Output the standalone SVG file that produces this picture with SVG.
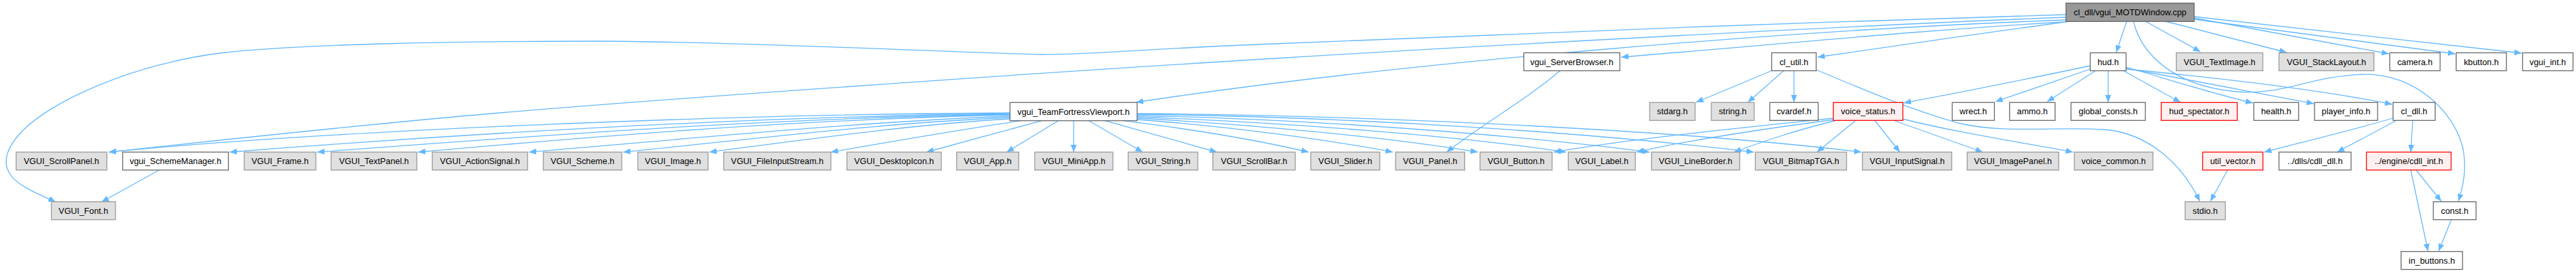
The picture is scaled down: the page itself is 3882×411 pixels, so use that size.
<svg xmlns="http://www.w3.org/2000/svg" width="3882" height="411" viewBox="0 0 3882 411">
<style>
.node rect{stroke-width:1.3}
.g rect{fill:#e0e0e0;stroke:#999999}
.w rect{fill:#ffffff;stroke:#666666}
.r rect{fill:#fff0f0;stroke:#ff0000}
.root rect{fill:#999999;stroke:#666666}
.node text{font-family:"Liberation Sans",Arial,sans-serif;font-size:12.8px;fill:#000;text-anchor:middle}
.e{fill:none;stroke:#63b8ff;stroke-width:1.3;marker-end:url(#ah)}
</style>
<defs>
<marker id="ah" markerUnits="userSpaceOnUse" markerWidth="13" markerHeight="10" refX="11" refY="4.5" orient="auto">
<path d="M0,0 L11,4.5 L0,9 z" fill="#63b8ff"/>
</marker>
</defs>
<rect width="3882" height="411" fill="#ffffff"/>
<g id="edges">
<path class="e" d="M3113,22 C2950,26 2750,34 2570,40 S2100,60 1920,66 S1650,83 1570,82 S1100,62 900,62 S450,66 332,80 S70,150 25,207 S40,284 84,304"/>
<path class="e" d="M3113,26 C2800,38 2250,68 1920,88 S900,155 640,180 S260,219 164,229"/>
<path class="e" d="M3113,30 C2700,45 2100,95 1712,154"/>
<path class="e" d="M3113,33 C2900,45 2700,65 2443,86"/>
<path class="e" d="M3120,32 C3000,48 2850,70 2739,86"/>
<path class="e" d="M3205,32 L3189,79"/>
<path class="e" d="M3233,32 L3316,78"/>
<path class="e" d="M3263,32 L3446,79"/>
<path class="e" d="M3306,27 L3600,81"/>
<path class="e" d="M3306,29 L3700,81"/>
<path class="e" d="M3306,25 L3800,80"/>
<path class="e" d="M3215,32 C3228,85 3280,130 3370,138 C3440,144 3480,115 3559,112 C3640,109 3700,170 3712,225 C3718,260 3710,285 3705,303"/>
<path class="e" d="M3150,99 C3050,120 2950,140 2869,155"/>
<path class="e" d="M3150,104 L3007,153"/>
<path class="e" d="M3158,106.5 L3085,153"/>
<path class="e" d="M3177,106.5 L3177,154"/>
<path class="e" d="M3200,106.5 L3286,154"/>
<path class="e" d="M3204,101 C3270,120 3330,140 3395,155"/>
<path class="e" d="M3204,103 C3300,120 3400,140 3487,156"/>
<path class="e" d="M3204,104 C3350,118 3500,136 3605,157"/>
<path class="e" d="M3606,178 C3530,200 3460,216 3412,229"/>
<path class="e" d="M3612,181 L3522,229"/>
<path class="e" d="M3636,181 L3633,229"/>
<path class="e" d="M3357,256 L3331,303"/>
<path class="e" d="M2737,105 C2820,140 2880,165 2950,185 C3020,202 3100,190 3170,195 C3240,200 3290,250 3315,303"/>
<path class="e" d="M3641,256 L3679,303"/>
<path class="e" d="M3633,256 L3659,378"/>
<path class="e" d="M3694,331 L3675,378"/>
<path class="e" d="M2671,106 L2556,154"/>
<path class="e" d="M2688,106.5 L2634,154"/>
<path class="e" d="M2703.5,106.5 L2703.5,154"/>
<path class="e" d="M2351,106.5 C2300,150 2230,190 2180,229"/>
<path class="e" d="M240,256 L153,304"/>
<path class="e" d="M2763,178 C2600,195 2450,210 2341,229"/>
<path class="e" d="M2765,180 C2650,195 2550,210 2466,229"/>
<path class="e" d="M2768,181 C2700,198 2660,212 2613,229"/>
<path class="e" d="M2797,181 L2738,229"/>
<path class="e" d="M2825,181 L2863,229"/>
<path class="e" d="M2853,181 L2988,229"/>
<path class="e" d="M2867,179 C2950,200 3050,215 3124,229"/>
<path class="e" d="M1522,170 C1100,172 500,196 164,229"/>
<path class="e" d="M1522,171 C1100,176 650,205 346,229"/>
<path class="e" d="M1522,172 C1150,178 800,205 478,229"/>
<path class="e" d="M1522,173 C1200,180 900,205 630,229"/>
<path class="e" d="M1522,175 C1300,183 1050,208 797,229"/>
<path class="e" d="M1522,177 C1330,185 1150,208 939,229"/>
<path class="e" d="M1522,179 C1380,187 1230,208 1069,229"/>
<path class="e" d="M1539,181.7 C1450,195 1350,212 1252,229"/>
<path class="e" d="M1570,181.7 L1396,229"/>
<path class="e" d="M1595,181.7 L1517,229"/>
<path class="e" d="M1618,181.7 L1618,229"/>
<path class="e" d="M1641,181.7 L1722,229"/>
<path class="e" d="M1665,181.7 L1834,229"/>
<path class="e" d="M1692,181.7 C1800,195 1900,212 1972,229"/>
<path class="e" d="M1713.6,180 C1850,190 2000,210 2099,229"/>
<path class="e" d="M1713.6,178 C1900,188 2100,208 2227,229"/>
<path class="e" d="M1713.6,176 C1950,185 2200,205 2360,229"/>
<path class="e" d="M1713.6,174 C2000,180 2300,205 2486,229"/>
<path class="e" d="M1713.6,172 C2050,176 2400,200 2643,229"/>
<path class="e" d="M1713.6,171 C2100,174 2550,198 2805,229"/>
</g>
<g id="root" class="node root"><rect x="3113.4" y="4.7" width="193.2" height="27.6"/><text x="3210" y="23">cl_dll/vgui_MOTDWindow.cpp</text></g>
<g id="n_serverbrowser" class="node w"><rect x="2296.4" y="79.5" width="144.6" height="27"/><text x="2368.7" y="97.5">vgui_ServerBrowser.h</text></g>
<g id="n_cl_util" class="node w"><rect x="2669.8" y="79.5" width="67.2" height="27"/><text x="2703.4" y="97.5">cl_util.h</text></g>
<g id="n_hud" class="node w"><rect x="3150" y="79.5" width="54" height="27"/><text x="3177" y="97.5">hud.h</text></g>
<g id="n_textimage" class="node g"><rect x="3279.6" y="79.5" width="130.4" height="27"/><text x="3344.8" y="97.5">VGUI_TextImage.h</text></g>
<g id="n_stacklayout" class="node g"><rect x="3434.4" y="79.5" width="143.1" height="27"/><text x="3506" y="97.5">VGUI_StackLayout.h</text></g>
<g id="n_camera" class="node w"><rect x="3601.4" y="79.5" width="75.8" height="27"/><text x="3639.3" y="97.5">camera.h</text></g>
<g id="n_kbutton" class="node w"><rect x="3701.4" y="79.5" width="75.8" height="27"/><text x="3739.3" y="97.5">kbutton.h</text></g>
<g id="n_vgui_int" class="node w"><rect x="3801.5" y="79.5" width="76" height="27"/><text x="3839.5" y="97.5">vgui_int.h</text></g>
<g id="n_tfv" class="node w"><rect x="1522" y="154.3" width="191.6" height="27.4"/><text x="1617.8" y="172.5">vgui_TeamFortressViewport.h</text></g>
<g id="n_stdarg" class="node g"><rect x="2486" y="154.3" width="68.5" height="27"/><text x="2520.2" y="172.3">stdarg.h</text></g>
<g id="n_string" class="node g"><rect x="2579" y="154.3" width="64.5" height="27"/><text x="2611.2" y="172.3">string.h</text></g>
<g id="n_cvardef" class="node w"><rect x="2667" y="154.3" width="73" height="27"/><text x="2703.5" y="172.3">cvardef.h</text></g>
<g id="n_voice_status" class="node r"><rect x="2762.7" y="154.3" width="104.9" height="27"/><text x="2815.1" y="172.3">voice_status.h</text></g>
<g id="n_wrect" class="node w"><rect x="2942" y="154.3" width="63.5" height="27"/><text x="2973.7" y="172.3">wrect.h</text></g>
<g id="n_ammo" class="node w"><rect x="3028.5" y="154.3" width="68.5" height="27"/><text x="3062.7" y="172.3">ammo.h</text></g>
<g id="n_global_consts" class="node w"><rect x="3121" y="154.3" width="112" height="27"/><text x="3177" y="172.3">global_consts.h</text></g>
<g id="n_hud_spectator" class="node r"><rect x="3257" y="154.3" width="114.5" height="27"/><text x="3314.2" y="172.3">hud_spectator.h</text></g>
<g id="n_health" class="node w"><rect x="3396.5" y="154.3" width="67.5" height="27"/><text x="3430.2" y="172.3">health.h</text></g>
<g id="n_player_info" class="node w"><rect x="3488" y="154.3" width="95" height="27"/><text x="3535.5" y="172.3">player_info.h</text></g>
<g id="n_cl_dll" class="node w"><rect x="3606.3" y="154.3" width="63.4" height="27"/><text x="3638" y="172.3">cl_dll.h</text></g>
<g id="n_scrollpanel" class="node g"><rect x="24.3" y="229" width="136.7" height="27"/><text x="92.6" y="247">VGUI_ScrollPanel.h</text></g>
<g id="n_schememanager" class="node w"><rect x="184.8" y="229" width="159.5" height="27"/><text x="264.5" y="247">vgui_SchemeManager.h</text></g>
<g id="n_frame" class="node g"><rect x="368" y="229" width="108" height="27"/><text x="422" y="247">VGUI_Frame.h</text></g>
<g id="n_textpanel" class="node g"><rect x="499" y="229" width="129.2" height="27"/><text x="563.6" y="247">VGUI_TextPanel.h</text></g>
<g id="n_actionsignal" class="node g"><rect x="651.4" y="229" width="143.6" height="27"/><text x="723.2" y="247">VGUI_ActionSignal.h</text></g>
<g id="n_scheme" class="node g"><rect x="818.7" y="229" width="118.3" height="27"/><text x="877.8" y="247">VGUI_Scheme.h</text></g>
<g id="n_image" class="node g"><rect x="961.2" y="229" width="105.8" height="27"/><text x="1014.1" y="247">VGUI_Image.h</text></g>
<g id="n_fileinputstream" class="node g"><rect x="1090.6" y="229" width="161.5" height="27"/><text x="1171.3" y="247">VGUI_FileInputStream.h</text></g>
<g id="n_desktopicon" class="node g"><rect x="1276.3" y="229" width="142.2" height="27"/><text x="1347.4" y="247">VGUI_DesktopIcon.h</text></g>
<g id="n_app" class="node g"><rect x="1441.7" y="229" width="93.6" height="27"/><text x="1488.5" y="247">VGUI_App.h</text></g>
<g id="n_miniapp" class="node g"><rect x="1559.4" y="229" width="117.7" height="27"/><text x="1618.2" y="247">VGUI_MiniApp.h</text></g>
<g id="n_string2" class="node g"><rect x="1700.2" y="229" width="104.8" height="27"/><text x="1752.6" y="247">VGUI_String.h</text></g>
<g id="n_scrollbar" class="node g"><rect x="1827.8" y="229" width="124.1" height="27"/><text x="1889.8" y="247">VGUI_ScrollBar.h</text></g>
<g id="n_slider" class="node g"><rect x="1975.4" y="229" width="104" height="27"/><text x="2027.4" y="247">VGUI_Slider.h</text></g>
<g id="n_panel" class="node g"><rect x="2103.2" y="229" width="104.1" height="27"/><text x="2155.2" y="247">VGUI_Panel.h</text></g>
<g id="n_button" class="node g"><rect x="2230.4" y="229" width="108.6" height="27"/><text x="2284.7" y="247">VGUI_Button.h</text></g>
<g id="n_label" class="node g"><rect x="2363.4" y="229" width="101" height="27"/><text x="2413.9" y="247">VGUI_Label.h</text></g>
<g id="n_lineborder" class="node g"><rect x="2488.8" y="229" width="132.9" height="27"/><text x="2555.2" y="247">VGUI_LineBorder.h</text></g>
<g id="n_bitmaptga" class="node g"><rect x="2645.3" y="229" width="137.4" height="27"/><text x="2714" y="247">VGUI_BitmapTGA.h</text></g>
<g id="n_inputsignal" class="node g"><rect x="2806.6" y="229" width="134.7" height="27"/><text x="2874" y="247">VGUI_InputSignal.h</text></g>
<g id="n_imagepanel" class="node g"><rect x="2964.5" y="229" width="138" height="27"/><text x="3033.5" y="247">VGUI_ImagePanel.h</text></g>
<g id="n_voice_common" class="node g"><rect x="3126" y="229" width="118.5" height="27"/><text x="3185.2" y="247">voice_common.h</text></g>
<g id="n_util_vector" class="node r"><rect x="3319.4" y="229" width="90.8" height="27"/><text x="3364.8" y="247">util_vector.h</text></g>
<g id="n_cdll_dll" class="node w"><rect x="3434.4" y="229" width="108.6" height="27"/><text x="3488.7" y="247">../dlls/cdll_dll.h</text></g>
<g id="n_cdll_int" class="node r"><rect x="3566.3" y="229" width="127.5" height="27"/><text x="3630" y="247">../engine/cdll_int.h</text></g>
<g id="n_font" class="node g"><rect x="77.5" y="303.7" width="96.5" height="27"/><text x="125.7" y="321.7">VGUI_Font.h</text></g>
<g id="n_stdio" class="node g"><rect x="3293" y="303.7" width="60.5" height="27"/><text x="3323.2" y="321.7">stdio.h</text></g>
<g id="n_const" class="node w"><rect x="3667" y="303.7" width="64.4" height="27"/><text x="3699.2" y="321.7">const.h</text></g>
<g id="n_in_buttons" class="node w"><rect x="3618.4" y="378.6" width="92.6" height="27"/><text x="3664.7" y="396.6">in_buttons.h</text></g>
</svg>
